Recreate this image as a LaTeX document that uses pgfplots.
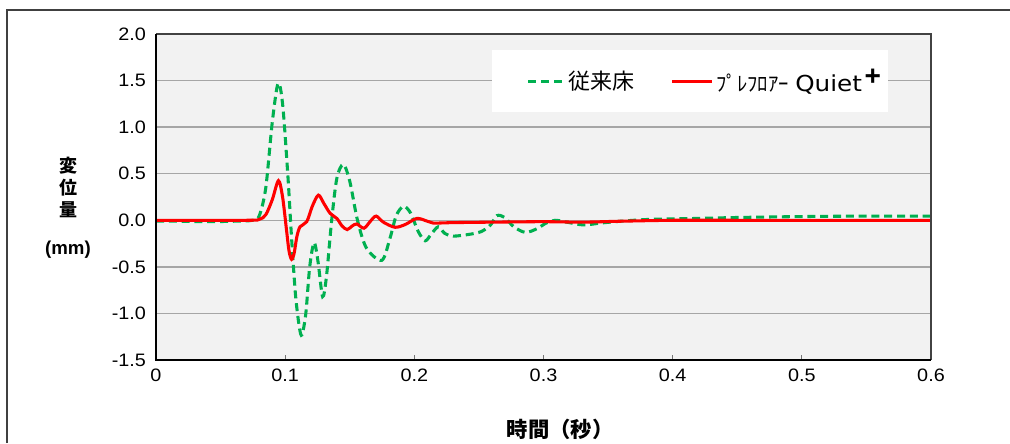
\documentclass[border=0pt]{standalone}
\usepackage{fontspec}
\setmainfont{Liberation Sans}
\newfontfamily\jp{Noto Sans CJK JP}
\newfontfamily\dv{DejaVu Sans}[FakeStretch=1.12]
\newfontfamily\tk{Liberation Sans}[FakeStretch=1.1]
\usepackage{pgfplots}
\pgfplotsset{compat=1.18}
\definecolor{bgc}{HTML}{F2F2F2}
\definecolor{gridc}{HTML}{A6A6A6}
\definecolor{grn}{HTML}{00B050}
\definecolor{framec}{HTML}{404040}
\pgfplotsset{
  grnleg/.style={legend image code/.code={\path (0pt,0pt); \draw[##1] (23pt,0pt) -- (50pt,0pt);}},
  redleg/.style={legend image code/.code={\path (0pt,0pt); \draw[##1] (0pt,0pt) -- (30pt,0pt);}},
}
\begin{document}
\begin{tikzpicture}[x=0.75pt,y=0.75pt]
\useasboundingbox (0,0) rectangle (1010,443);
% outer frame (top and left)
\draw[framec, line width=1.1pt] (7,0) -- (7,433) -- (1010,433);
\begin{axis}[
  at={(117pt,62.25pt)}, anchor=south west,
  scale only axis, width=581.25pt, height=244.5pt,
  xmin=0, xmax=0.6, ymin=-1.5, ymax=2.0,
  xtick={0,0.1,0.2,0.3,0.4,0.5,0.6},
  xticklabels={0,0.1,0.2,0.3,0.4,0.5,0.6},
  ytick={-1.5,-1,-0.5,0,0.5,1,1.5,2},
  /pgf/number format/assume math mode=true,
  xticklabel style={font=\tk\fontsize{13.5}{14}\selectfont, yshift=-3pt},
  yticklabel style={/pgf/number format/fixed,/pgf/number format/precision=1,/pgf/number format/fixed zerofill, font=\tk\fontsize{13.5}{14}\selectfont, xshift=-4pt},
  axis background/.style={fill=bgc},
  axis line style={draw=none},
  ymajorgrids, grid style={gridc, line width=1pt},
  tick align=inside, xtick pos=bottom, ytick pos=left,
  major tick length=4pt,
  xtick style={gridc!70!black, line width=0.6pt},
  ytick style={draw=none},
  legend style={at={(0.4335,0.951)}, anchor=north west, draw=none, fill=white,
    inner xsep=3pt, inner ysep=12pt, font=\fontsize{16.5}{18}\selectfont,
    legend columns=2,
    /tikz/every even column/.append style={column sep=25pt}},
  legend cell align=left,
  after end axis/.code={
    \draw[gridc!40!black, line width=0.8pt] (rel axis cs:0,1) -- (rel axis cs:1,1) -- (rel axis cs:1,0);
    \draw[black, line width=1.5pt] (rel axis cs:0,1) -- (rel axis cs:0,0) -- (rel axis cs:1,0);
  },
]
\addplot[grn, line width=2.3pt, dash pattern=on 6pt off 3.6pt, smooth, tension=0.5, grnleg]
coordinates {
(0,-0.01) (0.02,-0.01) (0.04,-0.015) (0.06,-0.01) (0.075,0.0) (0.08,0.05)
(0.085,0.35) (0.09,1.05) (0.0945,1.47) (0.098,1.25) (0.102,0.5) (0.105,-0.2)
(0.108,-0.8) (0.111,-1.15) (0.113,-1.23) (0.116,-1.0) (0.119,-0.5) (0.1224,-0.24)
(0.1255,-0.45) (0.129,-0.82) (0.132,-0.6) (0.136,0.0) (0.14,0.45) (0.145,0.60)
(0.15,0.42) (0.156,0.0) (0.163,-0.3) (0.1748,-0.43) (0.181,-0.2) (0.186,0.05)
(0.1916,0.15) (0.197,0.08) (0.203,-0.12) (0.2084,-0.22) (0.213,-0.15) (0.2185,-0.07)
(0.2235,-0.14) (0.23,-0.17) (0.243,-0.15) (0.252,-0.12) (0.259,-0.05) (0.264,0.05)
(0.27,0.03) (0.277,-0.07) (0.286,-0.13) (0.295,-0.09) (0.302,-0.03) (0.309,0.0)
(0.318,-0.02) (0.331,-0.05) (0.344,-0.03) (0.36,-0.01) (0.383,0.01) (0.42,0.02)
(0.45,0.03) (0.5,0.04) (0.55,0.045) (0.6,0.045)
};
\addlegendentry{{\jp 従来床}}
\addplot[red, line width=2.3pt, smooth, tension=0.5, redleg]
coordinates {
(0,0.0) (0.07,0.0) (0.08,0.01) (0.085,0.06) (0.09,0.22) (0.0948,0.425)
(0.098,0.25) (0.101,-0.1) (0.103,-0.33) (0.105,-0.42) (0.107,-0.35) (0.109,-0.18)
(0.1115,-0.07) (0.1167,-0.015) (0.121,0.15) (0.1257,0.27) (0.13,0.18) (0.1348,0.075)
(0.14,0.02) (0.144,-0.06) (0.148,-0.10) (0.152,-0.06) (0.1555,-0.04) (0.161,-0.085)
(0.166,-0.01) (0.1704,0.045) (0.176,-0.02) (0.185,-0.075) (0.193,-0.045) (0.202,0.02)
(0.21,-0.01) (0.2146,-0.03) (0.23,-0.025) (0.26,-0.02) (0.3,-0.015) (0.33,-0.02)
(0.36,-0.01) (0.4,0.0) (0.45,0.0) (0.5,0.0) (0.6,0.0)
};
\addlegendentry{{\jp\fontsize{15.5}{17}\selectfont ﾌﾟﾚﾌﾛｱｰ}\hspace{0.3em}{\dv\fontsize{16.5}{18}\selectfont Quiet}\hspace{2pt}\raisebox{0.55ex}{\fontsize{21}{21}\selectfont\bfseries +}\hspace{5pt}}
\end{axis}
% axis titles
\node[font=\jp\bfseries\fontsize{13.5}{16.5}\selectfont, align=center] at (68,256) {変\\位\\量};
\node[font=\bfseries\fontsize{14}{15}\selectfont] at (68,193) {(mm)};
\node[font=\jp\bfseries\fontsize{16}{17}\selectfont] at (560,14) {時間（秒）};
\end{tikzpicture}
\end{document}
